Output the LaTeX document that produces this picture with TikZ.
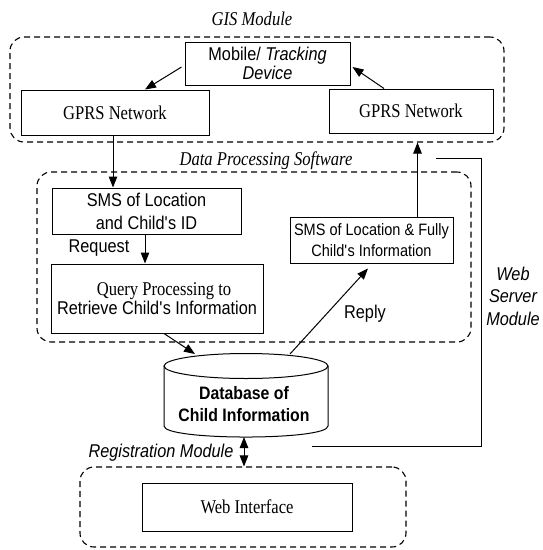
\documentclass[tikz,border=0pt]{standalone}
\usepackage{fontspec}
\setmainfont{Liberation Serif}
\setsansfont{Liberation Sans}
\newfontfamily\serc[FakeStretch=0.85]{Liberation Serif}
\newfontfamily\sanc[FakeStretch=0.88]{Liberation Sans}
\usetikzlibrary{arrows.meta}
\newcommand{\apo}{\textquotesingle}
\begin{document}
\begin{tikzpicture}[x=1pt,y=-1pt,
  box/.style={draw, line width=1pt, fill=white, inner sep=0pt, align=center},
  module/.style={draw, line width=1.1pt, dash pattern=on 6pt off 4pt, rounded corners=14pt, inner sep=0pt},
  conn/.style={line width=1pt, -{Triangle[length=11pt,width=8.5pt]}},
  conntwo/.style={line width=1pt, {Triangle[length=11pt,width=8.5pt]}-{Triangle[length=11pt,width=8.5pt]}},
  plain/.style={line width=1pt},
  sertext/.style={font=\serc\fontsize{19.5}{22}\selectfont},
  santext/.style={font=\sanc\fontsize{18.5}{22}\selectfont},
  lab/.style={inner sep=0pt, align=center}]
\useasboundingbox (0,0) rectangle (542,550);

% module frames
\node[module, minimum width=494pt, minimum height=105pt] (gis) at (257,89.5) {};
\node[module, minimum width=434pt, minimum height=170pt] (dps) at (254,257) {};
\node[module, minimum width=326pt, minimum height=80pt] (reg) at (243,507) {};

% module labels
\node[lab, font=\serc\itshape\fontsize{19.5}{22}\selectfont] (gisl) at (252,19) {GIS Module};
\node[lab, font=\serc\itshape\fontsize{19.5}{22}\selectfont] (dpsl) at (266,161) {Data Processing Software};
\node[lab, font=\sanc\itshape\fontsize{18.5}{22.5}\selectfont] (wsm) at (513,296) {Web\\Server\\Module};
\node[lab, font=\sanc\itshape\fontsize{18.5}{22}\selectfont] (regl) at (161,453) {Registration Module};

% boxes
\node[box, font=\sanc\fontsize{18.5}{19}\selectfont, minimum width=165pt, minimum height=43pt] (mobile) at (267.5,63.5) {Mobile/ \textit{Tracking}\\\textit{Device}};
\node[box, sertext, minimum width=188pt, minimum height=45pt] (gprsL) at (115,112.5) {GPRS Network};
\node[box, sertext, minimum width=164pt, minimum height=44pt] (gprsR) at (411,111) {GPRS Network};
\node[box, font=\sanc\fontsize{18.5}{23}\selectfont, minimum width=189pt, minimum height=46pt] (sms) at (146.5,211) {SMS of Location\\and Child\apo s ID};
\node[box, minimum width=212pt, minimum height=69pt] (query) at (157,298.5) {\serc\fontsize{19.5}{24}\selectfont\hspace*{14pt}Query Processing to\\\sanc\fontsize{18.5}{24}\selectfont Retrieve Child\apo s Information};
\node[box, font=\sanc\fontsize{16.5}{21}\selectfont, minimum width=163pt, minimum height=46pt] (smsf) at (371.5,240) {SMS of Location \& Fully\\Child\apo s Information};
\node[box, sertext, minimum width=210pt, minimum height=48pt] (web) at (247,507) {Web Interface};

% database cylinder
\draw[line width=1pt] (164,366) -- (164,426) .. controls (164,440.7) and (328,440.7) .. (328,426) -- (328,366);
\draw[line width=1pt] (246,366) ellipse[x radius=82pt, y radius=12.5pt];
\node[lab, font=\sanc\bfseries\fontsize{18}{22}\selectfont] (db) at (244,404) {Database of\\Child Information};
\coordinate (dbL) at (195,354);
\coordinate (dbR) at (290,354);
\coordinate (dbB) at (244,437);

% other labels
\node[lab, santext] (req) at (99,248) {Request};
\node[lab, santext] (rep) at (365,314) {Reply};

% web server line
\coordinate (ws1) at (436,158);
\coordinate (ws2) at (481,446);
\coordinate (ws3) at (312,446);
\draw[plain] (ws1) -| (ws2) -- (ws3);

% connectors
\draw[conn] ([xshift=-3pt,yshift=-3.5pt]mobile.west) -- ([xshift=30pt]gprsL.north);
\draw[conn] ([xshift=-27pt]gprsR.north) -- ([xshift=2pt,yshift=-3.5pt]mobile.east);
\draw[conn] ([xshift=-2pt]gprsL.south) -- ([xshift=-2pt]gprsL.south |- sms.north);
\draw[conn] ([xshift=-1.5pt]sms.south) -- ([xshift=-1.5pt]sms.south |- query.north);
\draw[conn] ([xshift=46pt]smsf.north) -- ([xshift=46pt]smsf.north |- gis.south);
\draw[conn] ([xshift=7pt]query.south) -- (dbL);
\draw[conn] (dbR) -- ([xshift=-3.5pt,yshift=-5pt]smsf.south);
\draw[conntwo] (dbB) -- (dbB |- reg.north);
\end{tikzpicture}
\end{document}
